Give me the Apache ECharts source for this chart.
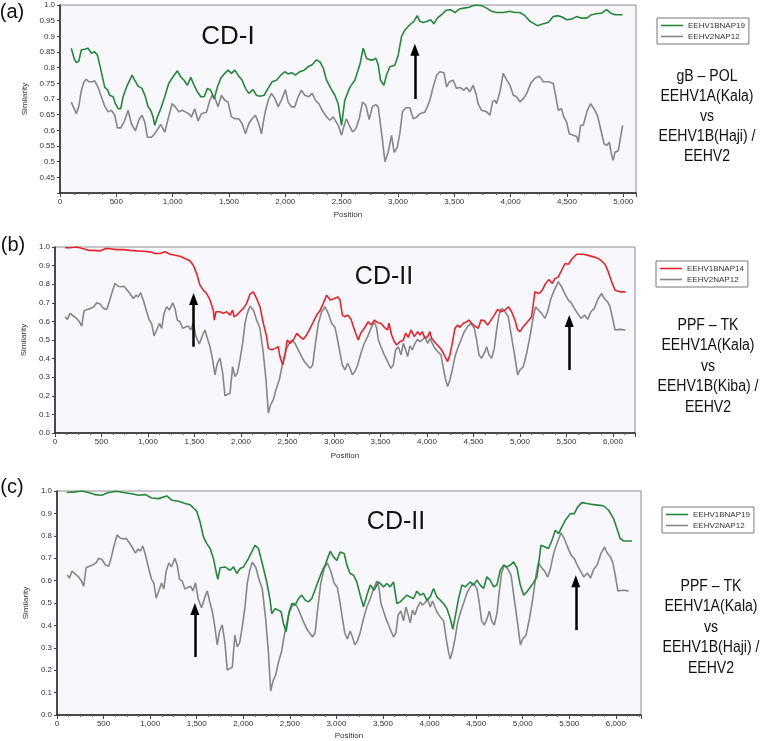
<!DOCTYPE html>
<html><head><meta charset="utf-8">
<script src="https://cdn.jsdelivr.net/npm/echarts@6/dist/echarts.min.js"></script>
<style>html,body{margin:0;padding:0;background:#fff}#c{width:760px;height:741px}</style>
</head><body><div id="c"></div><script>
// ---------- DATA (position, similarity) ----------
const greenA = [[100,.862],[125,.83],[145,.816],[166,.82],[190,.857],[219,.859],[249,.862],[279,.846],[308,.851],[332,.84],[353,.809],[373,.776],[397,.737],[421,.73],[441,.712],[471,.707],[492,.685],[516,.669],[539,.669],[560,.707],[589,.737],[619,.76],[640,.776],[663,.76],[693,.741],[728,.734],[758,.707],[782,.675],[805,.664],[826,.643],[841,.616],[865,.643],[894,.669],[930,.707],[965,.75],[1004,.771],[1042,.79],[1072,.771],[1101,.76],[1131,.744],[1161,.769],[1190,.744],[1220,.723],[1250,.707],[1279,.707],[1309,.734],[1338,.728],[1368,.70],[1398,.739],[1427,.766],[1463,.782],[1492,.792],[1522,.782],[1552,.792],[1581,.776],[1617,.76],[1646,.734],[1676,.718],[1714,.73],[1744,.712],[1773,.709],[1812,.712],[1847,.734],[1883,.755],[1921,.76],[1960,.776],[1996,.787],[2025,.78],[2055,.784],[2090,.776],[2129,.787],[2167,.792],[2203,.803],[2238,.809],[2277,.825],[2306,.819],[2336,.80],[2366,.76],[2404,.734],[2440,.712],[2469,.685],[2499,.616],[2528,.696],[2573,.737],[2617,.76],[2662,.81],[2691,.862],[2721,.83],[2750,.825],[2780,.825],[2803,.83],[2824,.81],[2845,.76],[2875,.744],[2898,.776],[2928,.803],[2972,.808],[3002,.84],[3032,.90],[3061,.92],[3106,.937],[3141,.948],[3171,.966],[3194,.948],[3224,.944],[3260,.948],[3290,.953],[3319,.94],[3349,.958],[3387,.969],[3426,.983],[3467,.985],[3506,.976],[3544,.987],[3585,.99],[3633,.993],[3668,.998],[3698,1.0],[3742,.998],[3787,.99],[3831,.98],[3875,.976],[3935,.976],[3994,.98],[4038,.976],[4083,.976],[4127,.966],[4171,.948],[4201,.942],[4236,.934],[4290,.94],[4334,.944],[4378,.963],[4423,.966],[4461,.961],[4497,.953],[4541,.955],[4586,.963],[4630,.958],[4675,.958],[4719,.969],[4764,.972],[4808,.974],[4852,.985],[4888,.974],[4926,.969],[4994,.969]];

const grayA = [[100,.69],[125,.67],[145,.653],[166,.675],[190,.728],[213,.755],[234,.763],[255,.755],[284,.755],[308,.758],[338,.737],[367,.707],[397,.677],[427,.659],[456,.664],[486,.648],[510,.608],[539,.608],[575,.632],[604,.664],[634,.621],[669,.598],[699,.632],[728,.648],[752,.627],[776,.578],[813,.578],[841,.589],[870,.605],[894,.619],[930,.594],[960,.637],[995,.685],[1024,.675],[1054,.659],[1084,.664],[1113,.659],[1143,.653],[1167,.643],[1196,.669],[1226,.63],[1255,.653],[1300,.658],[1330,.696],[1350,.712],[1374,.705],[1403,.675],[1433,.712],[1463,.696],[1492,.69],[1522,.643],[1552,.637],[1587,.637],[1617,.621],[1646,.589],[1676,.621],[1705,.637],[1735,.648],[1765,.621],[1788,.589],[1818,.653],[1848,.696],[1877,.718],[1907,.702],[1936,.675],[1972,.702],[2001,.73],[2025,.69],[2055,.675],[2084,.675],[2114,.707],[2143,.728],[2173,.712],[2209,.707],[2238,.718],[2268,.696],[2298,.685],[2327,.664],[2366,.643],[2396,.632],[2425,.643],[2470,.616],[2499,.584],[2522,.615],[2543,.637],[2567,.616],[2597,.595],[2626,.605],[2656,.637],[2685,.69],[2715,.68],[2744,.634],[2774,.677],[2804,.682],[2825,.674],[2840,.632],[2863,.568],[2884,.50],[2913,.53],[2943,.584],[2966,.53],[2993,.545],[3017,.59],[3040,.66],[3070,.672],[3106,.672],[3135,.637],[3165,.642],[3194,.653],[3239,.658],[3260,.675],[3283,.696],[3313,.739],[3343,.776],[3372,.787],[3408,.784],[3432,.739],[3456,.755],[3490,.76],[3520,.734],[3550,.737],[3585,.728],[3609,.737],[3638,.723],[3668,.744],[3692,.717],[3712,.685],[3742,.664],[3787,.659],[3816,.648],[3840,.691],[3861,.696],[3875,.685],[3905,.723],[3934,.782],[3964,.762],[3994,.744],[4024,.712],[4053,.707],[4083,.691],[4112,.701],[4142,.717],[4178,.75],[4216,.766],[4255,.773],[4291,.755],[4334,.755],[4378,.75],[4402,.707],[4423,.664],[4452,.669],[4473,.642],[4497,.626],[4521,.589],[4556,.584],[4586,.58],[4601,.562],[4621,.616],[4645,.616],[4681,.664],[4710,.685],[4740,.669],[4770,.648],[4799,.605],[4829,.557],[4852,.552],[4876,.562],[4897,.52],[4911,.504],[4926,.53],[4956,.535],[4971,.535],[4994,.616]];

const redB = [[108,.996],[161,.996],[233,1.0],[305,.991],[358,.982],[412,.982],[484,.979],[538,.991],[591,.991],[663,.986],[735,.986],[806,.982],[878,.979],[950,.977],[1022,.974],[1075,.965],[1129,.965],[1183,.974],[1237,.961],[1290,.956],[1344,.95],[1398,.938],[1452,.925],[1487,.902],[1523,.857],[1559,.795],[1595,.768],[1631,.75],[1667,.715],[1703,.657],[1713,.607],[1731,.652],[1774,.652],[1810,.643],[1846,.652],[1882,.634],[1910,.661],[1925,.625],[1953,.634],[1989,.652],[2025,.67],[2061,.697],[2097,.747],[2133,.759],[2168,.723],[2204,.679],[2240,.59],[2276,.518],[2294,.455],[2330,.447],[2366,.455],[2401,.464],[2419,.411],[2448,.366],[2473,.42],[2498,.50],[2527,.482],[2563,.50],[2599,.536],[2634,.518],[2670,.504],[2706,.527],[2735,.554],[2778,.598],[2814,.634],[2849,.657],[2885,.697],[2921,.741],[2960,.715],[3000,.722],[3040,.732],[3065,.715],[3090,.634],[3118,.625],[3147,.634],[3183,.611],[3208,.572],[3233,.536],[3262,.50],[3290,.539],[3326,.563],[3369,.598],[3398,.58],[3434,.607],[3470,.593],[3505,.59],[3541,.568],[3577,.554],[3591,.59],[3620,.527],[3649,.491],[3674,.473],[3710,.491],[3746,.50],[3771,.536],[3799,.514],[3828,.554],[3864,.518],[3900,.545],[3925,.527],[3950,.545],[3978,.509],[4007,.518],[4032,.545],[4050,.509],[4079,.491],[4122,.468],[4158,.447],[4194,.411],[4222,.384],[4247,.42],[4272,.482],[4301,.563],[4330,.58],[4355,.568],[4391,.59],[4427,.598],[4452,.607],[4480,.59],[4516,.575],[4552,.563],[4581,.607],[4616,.604],[4652,.58],[4688,.607],[4724,.634],[4760,.665],[4796,.652],[4839,.661],[4875,.679],[4910,.652],[4946,.607],[4975,.554],[5000,.545],[5036,.572],[5082,.598],[5125,.625],[5161,.759],[5204,.75],[5240,.768],[5276,.804],[5312,.825],[5348,.804],[5376,.83],[5412,.839],[5448,.875],[5484,.911],[5520,.907],[5563,.938],[5609,.961],[5681,.961],[5735,.955],[5789,.947],[5842,.938],[5878,.925],[5914,.907],[5950,.866],[5986,.813],[6022,.768],[6075,.759],[6136,.759]];

// EEHV2NAP12 in panels (b) and (c)
const grayBC = [[108,.625],[133,.611],[161,.643],[197,.629],[233,.616],[262,.598],[287,.575],[312,.657],[348,.664],[384,.67],[419,.679],[448,.70],[484,.693],[520,.67],[556,.664],[584,.705],[609,.75],[645,.804],[681,.789],[717,.786],[742,.789],[778,.768],[806,.75],[842,.723],[871,.741],[896,.732],[921,.754],[950,.714],[986,.652],[1014,.607],[1039,.589],[1065,.522],[1093,.554],[1122,.589],[1147,.563],[1172,.643],[1201,.679],[1229,.661],[1265,.70],[1290,.67],[1315,.607],[1344,.598],[1373,.563],[1398,.568],[1434,.575],[1459,.554],[1487,.59],[1516,.518],[1552,.479],[1588,.527],[1613,.554],[1638,.509],[1667,.464],[1695,.393],[1720,.313],[1746,.375],[1774,.402],[1803,.322],[1828,.20],[1853,.207],[1882,.214],[1910,.357],[1935,.304],[1961,.322],[1989,.393],[2018,.482],[2043,.589],[2068,.643],[2097,.682],[2133,.661],[2168,.607],[2204,.563],[2240,.429],[2269,.286],[2294,.107],[2319,.152],[2348,.179],[2376,.232],[2412,.286],[2437,.348],[2462,.402],[2491,.455],[2520,.482],[2545,.50],[2581,.482],[2616,.447],[2652,.411],[2688,.379],[2713,.366],[2742,.348],[2771,.366],[2796,.464],[2832,.589],[2867,.652],[2903,.679],[2939,.643],[2975,.589],[3011,.568],[3039,.50],[3065,.429],[3090,.366],[3118,.339],[3147,.375],[3172,.348],[3197,.313],[3226,.331],[3254,.366],[3290,.429],[3326,.482],[3362,.518],[3398,.563],[3434,.598],[3459,.563],[3477,.50],[3505,.464],[3541,.42],[3577,.384],[3613,.348],[3638,.366],[3663,.447],[3692,.464],[3720,.42],[3746,.482],[3771,.447],[3792,.411],[3817,.468],[3842,.447],[3871,.482],[3900,.504],[3925,.491],[3950,.50],[3978,.518],[4007,.482],[4032,.509],[4057,.482],[4086,.455],[4115,.438],[4151,.42],[4176,.348],[4201,.286],[4222,.25],[4247,.286],[4272,.339],[4301,.411],[4330,.455],[4366,.50],[4401,.545],[4437,.572],[4473,.589],[4509,.563],[4534,.50],[4559,.42],[4588,.402],[4616,.429],[4642,.464],[4667,.42],[4695,.402],[4724,.455],[4749,.554],[4774,.634],[4803,.67],[4839,.652],[4875,.625],[4903,.536],[4939,.429],[4975,.313],[5000,.339],[5036,.357],[5072,.429],[5108,.518],[5143,.625],[5168,.679],[5197,.661],[5233,.643],[5269,.616],[5297,.652],[5333,.723],[5369,.768],[5412,.813],[5448,.786],[5484,.747],[5520,.714],[5556,.697],[5584,.67],[5620,.643],[5656,.616],[5695,.634],[5728,.611],[5763,.652],[5799,.67],[5842,.723],[5878,.75],[5907,.723],[5943,.705],[5968,.679],[5993,.625],[6022,.554],[6075,.557],[6136,.554]];

const greenC = [[104,.993],[194,.996],[265,1.0],[337,.993],[408,.984],[480,.981],[552,.993],[641,.999],[713,.993],[802,.988],[874,.981],[946,.984],[1017,.969],[1089,.966],[1178,.978],[1232,.959],[1304,.954],[1375,.944],[1429,.939],[1465,.924],[1500,.91],[1536,.862],[1572,.795],[1608,.765],[1644,.743],[1680,.698],[1705,.646],[1726,.606],[1751,.657],[1805,.661],[1859,.646],[1895,.661],[1930,.632],[1966,.654],[2002,.661],[2055,.698],[2091,.728],[2127,.758],[2163,.743],[2199,.684],[2252,.594],[2288,.513],[2306,.453],[2342,.475],[2378,.468],[2406,.461],[2431,.409],[2460,.372],[2492,.461],[2521,.498],[2557,.49],[2593,.52],[2628,.535],[2664,.513],[2700,.505],[2736,.52],[2789,.58],[2836,.632],[2879,.669],[2933,.731],[2969,.706],[3004,.69],[3040,.728],[3083,.721],[3112,.669],[3147,.632],[3183,.624],[3219,.594],[3255,.535],[3291,.483],[3327,.535],[3363,.58],[3405,.557],[3452,.594],[3506,.572],[3541,.587],[3577,.572],[3613,.594],[3649,.498],[3685,.505],[3720,.52],[3756,.535],[3792,.527],[3828,.52],[3864,.553],[3899,.535],[3935,.543],[3971,.513],[4007,.527],[4043,.565],[4078,.527],[4114,.513],[4150,.498],[4186,.475],[4222,.431],[4250,.383],[4275,.438],[4311,.52],[4347,.58],[4383,.572],[4436,.594],[4472,.58],[4508,.602],[4544,.58],[4580,.565],[4615,.617],[4651,.602],[4687,.572],[4723,.58],[4759,.646],[4795,.669],[4830,.661],[4866,.669],[4902,.684],[4938,.657],[4974,.58],[5010,.535],[5046,.55],[5099,.58],[5153,.617],[5196,.758],[5242,.75],[5278,.743],[5314,.78],[5350,.825],[5386,.81],[5411,.832],[5457,.869],[5511,.899],[5554,.899],[5590,.929],[5636,.948],[5690,.944],[5761,.939],[5833,.936],[5869,.933],[5922,.914],[5976,.877],[6012,.832],[6047,.788],[6083,.777],[6173,.777]];

// arrows: [position, from similarity, to similarity]
const arrowsA = [[3150, 0.70, 0.857]];
const arrowsB = [[1490, 0.464, 0.72], [5530, 0.339, 0.602]];
const arrowsC = [[1480, 0.259, 0.473], [5570, 0.379, 0.597]];

const namesA = ['EEHV1BNAP19', 'EEHV2NAP12'];
const namesB = ['EEHV1BNAP14', 'EEHV2NAP12'];
const namesC = ['EEHV1BNAP19', 'EEHV2NAP12'];

const sideA = 'gB \u2013 POL\nEEHV1A(Kala)\nvs\nEEHV1B(Haji) /\nEEHV2';
const sideB = 'PPF \u2013 TK\nEEHV1A(Kala)\nvs\nEEHV1B(Kiba) /\nEEHV2';
const sideC = 'PPF \u2013 TK\nEEHV1A(Kala)\nvs\nEEHV1B(Haji) /\nEEHV2';

// ---------- STYLE ----------
const FONT = '"Liberation Sans", Arial, sans-serif';
const GREEN = '#23883a', RED = '#e8242a', GRAY = '#878787';
const AX = '#333';

function fmtX(v){ return String(Math.round(v)).replace(/\B(?=(\d{3})+(?!\d))/g, ','); }

function xAxis(gi, max, gap){
  return {type:'value', gridIndex:gi, min:0, max:max, interval:500,
    name:'Position', nameLocation:'middle', nameGap:gap,
    nameTextStyle:{fontSize:8, color:AX, fontFamily:FONT},
    axisLine:{show:true, onZero:false, lineStyle:{color:'#222', width:1.5}},
    axisTick:{show:true, length:4, lineStyle:{color:'#444'}},
    minorTick:{show:true, splitNumber:4, length:2, lineStyle:{color:'#666'}},
    splitLine:{show:false},
    axisLabel:{fontSize:8, color:AX, fontFamily:FONT, margin:5, showMaxLabel:false, formatter:fmtX}};
}
function yAxis(gi, min, interval, fmt, gap){
  return {type:'value', gridIndex:gi, min:min, max:1, interval:interval,
    name:'Similarity', nameLocation:'middle', nameGap:gap,
    nameTextStyle:{fontSize:8, color:AX, fontFamily:FONT},
    axisLine:{show:true, onZero:false, lineStyle:{color:'#222', width:1.5}},
    axisTick:{show:true, length:3, lineStyle:{color:'#444'}},
    splitLine:{show:false},
    axisLabel:{fontSize:8, color:AX, fontFamily:FONT, margin:5, formatter:fmt}};
}
function arrowLine(list){
  return {silent:true, symbol:['none','triangle'], symbolSize:[9,12], animation:false,
    lineStyle:{color:'#000', width:2.5, type:'solid'}, label:{show:false},
    data:list.map(a => [{coord:[a[0], a[1]]}, {coord:[a[0], a[2]]}])};
}
function line(name, xi, data, color, arrows){
  const s = {type:'line', name:name, xAxisIndex:xi, yAxisIndex:xi, data:data,
    symbol:'none', showSymbol:false, animation:false,
    lineStyle:{width:1.6, color:color}, itemStyle:{color:color}};
  if (arrows) s.markLine = arrowLine(arrows);
  return s;
}
function legend(names, left, top){
  return {data:names, left:left, top:top, orient:'vertical', itemGap:2,
    icon:'rect', itemWidth:22, itemHeight:1.6, padding:[3,4,3,4], borderColor:'#777', borderWidth:1,
    backgroundColor:'#fff', selectedMode:false,
    textStyle:{fontSize:8, color:'#333', fontFamily:FONT, lineHeight:9}};
}
function txt(t, x, y, size, extra){
  return Object.assign({type:'text', x:x, y:y, silent:true,
    style:Object.assign({text:t, fontSize:size, fontFamily:FONT, fill:'#111',
      align:'center', verticalAlign:'middle', textAlign:'center', textVerticalAlign:'middle'}, (extra||{}).style||{})},
    (extra||{}).el||{});
}
const gridBase = {show:true, backgroundColor:'#f8f7fb', borderColor:'#8c8c8c', borderWidth:1};

const fmtYA = v => { const r = +v.toFixed(2); if (Math.abs(r-0.4) < 1e-6) return ''; return r === 1 ? '1.0' : String(r); };
const fmtYB = v => v.toFixed(1);

const option = {
  animation:false,
  textStyle:{fontFamily:FONT},
  grid:[
    Object.assign({left:60, top:5, width:576, height:188}, gridBase),
    Object.assign({left:55, top:247, width:580, height:186}, gridBase),
    Object.assign({left:57, top:491, width:584, height:224}, gridBase)
  ],
  xAxis:[ xAxis(0, 5113, 18), xAxis(1, 6237, 19), xAxis(2, 6270, 17) ],
  yAxis:[ yAxis(0, 0.4, 0.05, fmtYA, 26), yAxis(1, 0, 0.1, fmtYB, 21), yAxis(2, 0, 0.1, fmtYB, 24) ],
  legend:[ legend(namesA, 657, 18), legend(namesB, 656, 261), legend(namesC, 662, 507) ],
  series:[
    line(namesA[1], 0, grayA, GRAY, arrowsA),
    line(namesA[0], 0, greenA, GREEN),
    line(namesB[1], 1, grayBC, GRAY, arrowsB),
    line(namesB[0], 1, redB, RED),
    line(namesC[1], 2, grayBC, GRAY, arrowsC),
    line(namesC[0], 2, greenC, GREEN)
  ],
  graphic:[
    txt('(a)', 12, 12, 20),
    txt('(b)', 13, 245, 20),
    txt('(c)', 12, 487, 20),
    txt('CD-I', 228, 37, 26),
    txt('CD-II', 384, 277, 25),
    txt('CD-II', 396, 522, 25),
    txt(sideA, 707, 67, 16, {el:{scaleX:0.88}, style:{verticalAlign:'top', textVerticalAlign:'top', lineHeight:20}}),
    txt(sideB, 708, 315, 16, {el:{scaleX:0.88}, style:{verticalAlign:'top', textVerticalAlign:'top', lineHeight:20.5}}),
    txt(sideC, 711, 576, 16, {el:{scaleX:0.88}, style:{verticalAlign:'top', textVerticalAlign:'top', lineHeight:20.5}})
  ]
};
const chart = echarts.init(document.getElementById('c'));
chart.setOption(option);
</script></body></html>
